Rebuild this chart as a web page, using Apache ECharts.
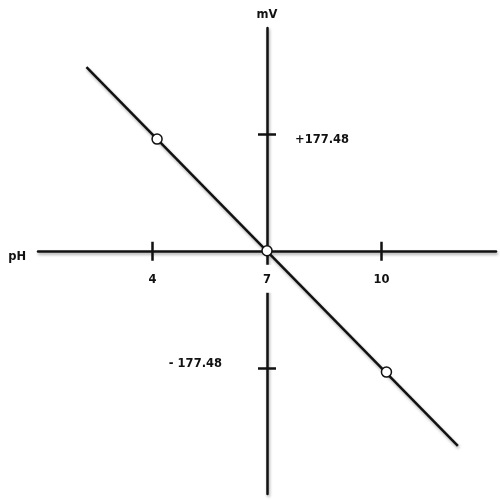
<!DOCTYPE html>
<html>
<head>
<meta charset="utf-8">
<script src="https://cdn.jsdelivr.net/npm/echarts@6/dist/echarts.min.js"></script>
<style>
  html, body { margin: 0; padding: 0; background: #fff; }
  #main { width: 500px; height: 500px; }
</style>
</head>
<body>
<div id="main"></div>
<script>
//----------- Data
const linePH = [2.27, 12.0];
const lineMV = [278.7, -295.8];
const pointPH = [4.12, 7, 10.13];
const pointMV = [169.5, 0, -184];
const phTicks = [4, 10];
const phLabels = [4, 7, 10];
const mvTicks = [-177.48, 177.48];
const mvLabelUp = [177.48];
const mvLabelDown = [-177.48];
//----------- Data

const myChart = echarts.init(document.getElementById("main"));

const font = "DejaVu Sans";
const ink = "#111";
const shadow = {
    shadowColor: "rgba(0,0,0,0.35)",
    shadowBlur: 3,
    shadowOffsetX: 1,
    shadowOffsetY: 2
};
const gridLeft = 38, gridRight = 4, gridTop = 28, gridBottom = 6;
const phMin = 1, phMax = 13;
const mvMin = -369, mvMax = 338;

//Axes cross at pH 7 / 0 mV: shift each axis in from the grid edge
const plotWidth = 500 - gridLeft - gridRight;
const plotHeight = 500 - gridTop - gridBottom;
const yShift = -(7 - phMin) / (phMax - phMin) * plotWidth;
const xShift = -(0 - mvMin) / (mvMax - mvMin) * plotHeight;

const textStyle = {color: ink, fontFamily: font, fontWeight: "bold", fontSize: 11.5};

const option = {
    animation: false,
    backgroundColor: "#fff",
    grid: {left: gridLeft, right: gridRight, top: gridTop, bottom: gridBottom, containLabel: false, outerBoundsMode: "none"},
    xAxis: [
        {
            type: "value",
            position: "bottom",
            offset: xShift,
            min: phMin,
            max: phMax,
            z: 3,
            name: "pH",
            nameLocation: "start",
            nameGap: 12,
            nameTextStyle: Object.assign({}, textStyle, {verticalAlign: "top"}),
            axisLine: {onZero: false, lineStyle: Object.assign({color: ink, width: 2.5}, shadow)},
            axisTick: {show: true, length: 10, customValues: phTicks, lineStyle: {color: ink, width: 2.5}},
            axisLabel: Object.assign({}, textStyle, {
                customValues: phLabels,
                margin: 14,
                padding: [9, 6, 7, 6],
                backgroundColor: "#fff"
            }),
            splitLine: {show: false}
        },
        {
            type: "value",
            position: "bottom",
            offset: xShift,
            min: phMin,
            max: phMax,
            z: 3,
            axisLine: {onZero: false, lineStyle: {color: "rgba(0,0,0,0)", width: 0}},
            axisTick: {show: true, inside: true, length: 9, customValues: phTicks, lineStyle: {color: ink, width: 2.5}},
            axisLabel: {show: false},
            splitLine: {show: false}
        }
    ],
    yAxis: [
        {
            type: "value",
            position: "left",
            offset: yShift,
            min: mvMin,
            max: mvMax,
            z: 1,
            name: "mV",
            nameLocation: "end",
            nameGap: 7,
            nameTextStyle: Object.assign({}, textStyle, {align: "center"}),
            axisLine: {show: true, onZero: false, lineStyle: Object.assign({color: ink, width: 2.5}, shadow)},
            axisTick: {show: true, length: 9, customValues: mvTicks, lineStyle: {color: ink, width: 2.5}},
            axisLabel: Object.assign({}, textStyle, {
                customValues: mvLabelDown,
                margin: 45,
                verticalAlign: "bottom",
                lineHeight: 8,
                formatter: v => "- " + Math.abs(v).toFixed(2)
            }),
            splitLine: {show: false}
        },
        {
            type: "value",
            position: "left",
            offset: yShift,
            min: mvMin,
            max: mvMax,
            z: 1,
            axisLine: {show: true, onZero: false, lineStyle: {color: "rgba(0,0,0,0)", width: 0}},
            axisTick: {show: true, inside: true, length: 9, customValues: mvTicks, lineStyle: {color: ink, width: 2.5}},
            axisLabel: Object.assign({}, textStyle, {
                customValues: mvLabelUp,
                inside: true,
                margin: 28,
                verticalAlign: "top",
                formatter: v => "+" + v.toFixed(2)
            }),
            splitLine: {show: false}
        }
    ],
    series: [
        {
            type: "line",
            z: 4,
            showSymbol: false,
            symbol: "none",
            lineStyle: Object.assign({color: ink, width: 2.5}, shadow),
            data: linePH.map((p, i) => [p, lineMV[i]])
        },
        {
            type: "scatter",
            z: 5,
            symbol: "circle",
            symbolSize: 10,
            itemStyle: {color: "#fff", borderColor: ink, borderWidth: 1.5, opacity: 1},
            data: pointPH.map((p, i) => [p, pointMV[i]])
        }
    ]
};

myChart.setOption(option);
</script>
</body>
</html>
